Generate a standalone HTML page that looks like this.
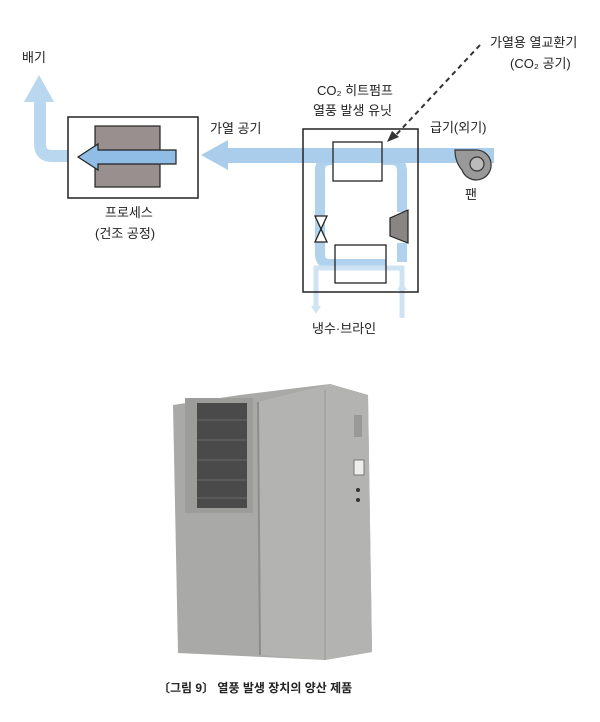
<!DOCTYPE html>
<html><head><meta charset="utf-8"><style>
body{margin:0;background:#fff;}
svg text{font-family:"Liberation Sans","Noto Sans CJK KR",sans-serif;fill:#222;}
</style></head><body>
<svg width="600" height="717" viewBox="0 0 600 717" xmlns="http://www.w3.org/2000/svg">
<!-- exhaust -->
<path d="M68 156 H52 Q40 156 40 144 V98" fill="none" stroke="#b9d7ee" stroke-width="12"/>
<polygon points="24,102 54,102 39,75" fill="#b9d7ee"/>
<!-- refrigerant loop -->
<path d="M383 160 H392 Q402 160 402 172 V212 M402 243 V262 M386 264 H330 Q320 264 320 254 V170 Q320 160 332 160" fill="none" stroke="#a9cdea" stroke-width="10" opacity="0.9"/>
<!-- water pipes -->
<path d="M316 292 V268 H402 V292" fill="none" stroke="#cfe3f3" stroke-width="5"/>
<path d="M316 268 V308 M402 318 V268" fill="none" stroke="#cfe3f3" stroke-width="5"/>
<polygon points="311,306 321,306 316,314" fill="#cfe3f3"/>
<polygon points="397,290 407,290 402,282" fill="#cfe3f3"/>
<!-- main air arrow -->
<rect x="226" y="148" width="268" height="15" fill="#a9cdea"/>
<polygon points="228,140 228,170 201,155" fill="#a9cdea"/>
<!-- process box -->
<rect x="68" y="117" width="130" height="81" fill="#fff" stroke="#222" stroke-width="1.5"/>
<rect x="95" y="126" width="65" height="61" fill="#9a8f8f" stroke="#222" stroke-width="1.2"/>
<polygon points="176,150 98,150 98,144 78,157 98,170 98,164 176,164" fill="#8fbde6" stroke="#222" stroke-width="1.2"/>
<!-- unit box -->
<rect x="303" y="129" width="115" height="163" fill="none" stroke="#222" stroke-width="1.5"/>
<rect x="333" y="142" width="49" height="39" fill="none" stroke="#222" stroke-width="1.3"/>
<rect x="335" y="245" width="51" height="38" fill="none" stroke="#222" stroke-width="1.3"/>
<polygon points="408,210 408,243 390,236 390,218" fill="#8a8585" stroke="#222" stroke-width="1.2"/>
<polygon points="315,216 327,216 315,242 327,242" fill="#fff" stroke="#222" stroke-width="1.3"/>
<!-- fan -->
<path d="M455 150 H475 A15 15 0 1 1 462 170 Q455 162 455 150 Z" fill="#999" stroke="#333" stroke-width="1.2"/>
<circle cx="477" cy="164" r="7" fill="#bbb" stroke="#333" stroke-width="1.2"/>
<!-- dashed leader -->
<line x1="480" y1="45" x2="395" y2="136" stroke="#333" stroke-width="2" stroke-dasharray="5,4"/>
<polygon points="387,142 392,131 399,137" fill="#333"/>
<!-- labels -->
<text x="22" y="62" font-size="13">배기</text>
<text x="210" y="133" font-size="13">가열 공기</text>
<text x="317" y="95" font-size="13">CO₂ 히트펌프</text>
<text x="313" y="115" font-size="13">열풍 발생 유닛</text>
<text x="490" y="47" font-size="13">가열용 열교환기</text>
<text x="510" y="68" font-size="13">(CO₂ 공기)</text>
<text x="430" y="132" font-size="13">급기(외기)</text>
<text x="465" y="199" font-size="13">팬</text>
<text x="105" y="217" font-size="13">프로세스</text>
<text x="95" y="238" font-size="13">(건조 공정)</text>
<text x="312" y="333" font-size="13">냉수·브라인</text>
<!-- photo -->
<polygon points="173,405 240,395 330,384 368,395 372,652 325,660 178,653" fill="#a9a9a7"/>
<polygon points="258,402 330,384 368,395 372,652 325,660 260,655" fill="#b3b3b1"/>
<line x1="258" y1="402" x2="260" y2="655" stroke="#8d8d8b" stroke-width="2"/>
<line x1="325" y1="390" x2="325" y2="660" stroke="#999" stroke-width="1"/>
<rect x="185" y="398" width="68" height="115" fill="#9c9c9a"/>
<rect x="197" y="403" width="50" height="105" fill="#4a4a4a"/>
<g stroke="#6a6a6a" stroke-width="1"><line x1="197" y1="420" x2="247" y2="420"/><line x1="197" y1="440" x2="247" y2="440"/><line x1="197" y1="460" x2="247" y2="460"/><line x1="197" y1="480" x2="247" y2="480"/><line x1="197" y1="498" x2="247" y2="498"/></g>
<rect x="354" y="415" width="8" height="22" fill="#999"/>
<rect x="354" y="460" width="10" height="15" fill="#eee" stroke="#777"/>
<circle cx="358" cy="490" r="2" fill="#333"/><circle cx="358" cy="500" r="2" fill="#333"/>
<text x="158" y="692" font-size="12" font-weight="bold">〔그림 9〕 열풍 발생 장치의 양산 제품</text>
</svg>
</body></html>
